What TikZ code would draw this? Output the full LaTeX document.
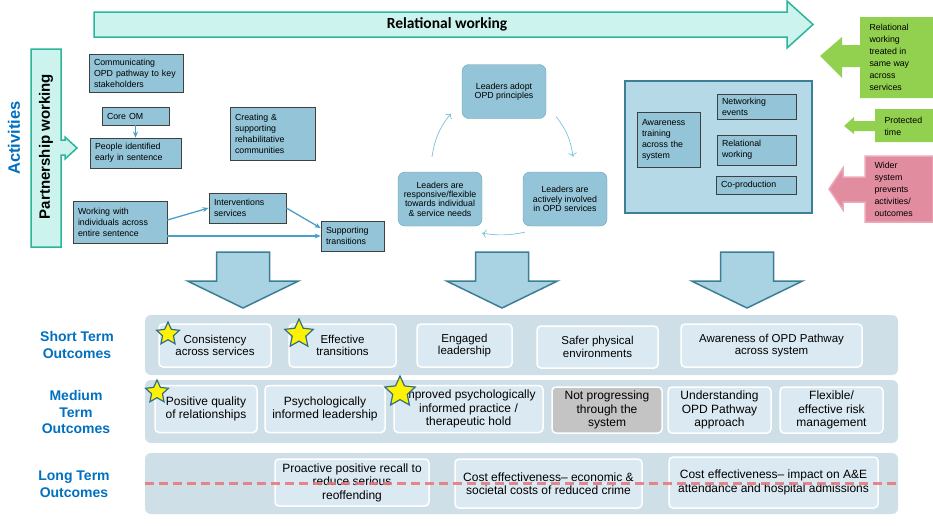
\documentclass[tikz,border=0pt]{standalone}
\usepackage{fontspec}
\setmainfont{Liberation Sans}
\newfontfamily\calibri{Carlito}
\usepackage{xcolor}
\usepackage{tikz}
\usetikzlibrary{arrows.meta, shapes.geometric}

\definecolor{actfill}{HTML}{93C4D7}
\definecolor{actline}{HTML}{404040}
\definecolor{leadline}{HTML}{6F9FB0}
\definecolor{sysfill}{HTML}{B5D9E7}
\definecolor{sysline}{HTML}{3D7F94}
\definecolor{linkblue}{HTML}{4A9FC8}
\definecolor{cycblue}{HTML}{7CC2DC}
\definecolor{mint}{HTML}{CDF3EE}
\definecolor{tealline}{HTML}{2BB59A}
\definecolor{bigarrow}{HTML}{A9D3E2}
\definecolor{bigline}{HTML}{3B7E96}
\definecolor{panelfill}{HTML}{CFDFE8}
\definecolor{outfill}{HTML}{DBEAF2}
\definecolor{greyout}{HTML}{C4C4C4}
\definecolor{labblue}{HTML}{0070C0}
\definecolor{grn}{HTML}{92D050}
\definecolor{pnk}{HTML}{E28CA0}
\definecolor{pnkline}{HTML}{EDA9B9}
\definecolor{starline}{HTML}{2F6F87}
\definecolor{dashred}{HTML}{E8737A}

\begin{document}
\begin{tikzpicture}[x=1pt, y=-1pt,
    act/.style 2 args={draw=actline, fill=actfill, line width=0.8pt, text width=#1, minimum height=#2, inner xsep=5pt, inner ysep=2pt, align=left, font=\fontsize{8.8}{11}\selectfont},
    lead/.style={draw=leadline, fill=actfill, rounded corners=7pt, minimum width=84pt, minimum height=54pt, align=center, inner sep=2pt, font=\fontsize{8.8}{9.3}\selectfont},
    link/.style={draw=linkblue, line width=1.3pt, -{Stealth[length=6pt, width=5pt]}},
    cyc/.style={draw=cycblue, line width=0.7pt, -{To[length=4pt]}},
    outc/.style 2 args={draw=white, line width=1.5pt, fill=outfill, rounded corners=4pt, minimum width=#1, minimum height=#2, align=center, inner sep=1pt},
    panel/.style 2 args={fill=panelfill, rounded corners=6pt, minimum width=#1, minimum height=#2},
    rowlab/.style={text=labblue, align=center, font=\bfseries\fontsize{14}{16.5}\selectfont},
    goldstar/.style={star, star points=5, star point ratio=2.1, fill=yellow, draw=starline, line width=1.2pt, minimum size=#1, inner sep=0pt},
    sidebox/.style={align=left, anchor=west, font=\fontsize{8.8}{12}\selectfont}
]
    \useasboundingbox (0,0) rectangle (933,525);

    % top arrows
    \draw[draw=tealline, fill=mint, line width=1.5pt] (94,12) -- (787,12) -- (787,1) -- (813,24.5) -- (787,48) -- (787,37) -- (94,37) -- cycle;
    \node[font=\calibri\bfseries\fontsize{15.5}{18}\selectfont] (reltxt) at (447,24) {Relational working};
    \draw[draw=tealline, fill=mint, line width=1.5pt] (31,49) -- (61,49) -- (61,140) -- (65,140) -- (65,137) -- (77,148) -- (65,159) -- (65,155) -- (61,155) -- (61,247) -- (31,247) -- cycle;
    \node[rotate=90, font=\bfseries\fontsize{15}{18}\selectfont] (partn) at (46,146.5) {Partnership working};
    \node[rotate=90, text=labblue, font=\bfseries\fontsize{16.5}{18}\selectfont] (actl) at (14,138) {Activities};

    % activities
    \node[act={84pt}{38pt}] (comm) at (136,73) {Communicating\\OPD pathway to key\\stakeholders};
    \node[act={57pt}{18pt}] (core) at (135.5,116) {Core OM};
    \node[act={81pt}{30pt}] (people) at (135.5,153) {People identified\\early in sentence};
    \node[act={75pt}{53pt}] (create) at (272.5,133.5) {Creating \&\\supporting\\rehabilitative\\communities};
    \node[act={84pt}{42pt}] (work) at (120,222) {Working with\\individuals across\\entire sentence};
    \node[act={67pt}{30pt}] (interv) at (247.5,208) {Interventions\\services};
    \node[act={53pt}{30pt}] (supp) at (352.5,236) {Supporting\\transitions};
    \draw[link] (core) -- (people);
    \draw[link] ([yshift=2pt]work.east) -- (interv.west);
    \draw[link] (interv.east) -- ([yshift=8pt]supp.west);
    \draw[link] ([yshift=-14pt]work.east) -- (supp.west);

    % leaders
    \node[lead] (adopt) at (504,91.5) {Leaders adopt\\OPD principles};
    \node[lead] (active) at (565,199) {Leaders are\\actively involved\\in OPD services};
    \node[lead] (resp) at (440,199) {Leaders are\\responsive/flexible\\towards individual\\\& service needs};
    \draw[cyc] ([xshift=10pt,yshift=2pt]adopt.south east) to[bend left=15] ([xshift=8pt,yshift=15pt]active.north);
    \draw[cyc] ([xshift=2pt,yshift=-6pt]active.south west) to[bend left=10] ([yshift=-7pt]resp.south east);
    \draw[cyc] ([xshift=-8pt,yshift=15pt]resp.north) to[bend left=15] ([xshift=-11pt,yshift=5pt]adopt.south west);

    % system box
    \node[draw=sysline, fill=sysfill, line width=1.5pt, minimum width=187pt, minimum height=132pt] (sys) at (718.5,147) {};
    \node[act={53pt}{55pt}] (aware) at (668.5,139.5) {Awareness\\training\\across the\\system};
    \node[act={69pt}{25pt}] (netw) at (756.5,106.5) {Networking\\events};
    \node[act={69pt}{30pt}] (relw) at (756.5,150) {Relational\\working};
    \node[act={70pt}{18pt}] (coprod) at (756,185) {Co-production};

    % side arrows
    \fill[grn] (933,17) -- (860,17) -- (860,45) -- (842,45) -- (842,37) -- (820,56) -- (842,78) -- (842,67) -- (860,67) -- (860,98) -- (933,98) -- cycle;
    \node[sidebox] (same) at (866,57) {Relational\\working\\treated in\\same way\\across\\services};
    \fill[grn] (933,109) -- (875,109) -- (875,121) -- (854,121) -- (854,117) -- (844,126) -- (854,134) -- (854,131) -- (875,131) -- (875,142) -- (933,142) -- cycle;
    \node[sidebox] (prot) at (881,126) {Protected\\time};
    \draw[fill=pnk, draw=pnkline, line width=1.5pt] (933,156) -- (865,156) -- (865,177) -- (843,177) -- (843,168) -- (829,189) -- (843,210) -- (843,202) -- (865,202) -- (865,222) -- (933,222) -- cycle;
    \node[sidebox] (wider) at (871,189) {Wider\\system\\prevents\\activities/\\outcomes};

    % down arrows
    \foreach \cx in {243,502,747}{
        \draw[fill=bigarrow, draw=bigline, line width=1.5pt] (\cx-26.5,252) -- (\cx+26.5,252) -- (\cx+26.5,281) -- (\cx+55.5,281) -- (\cx,308) -- (\cx-55.5,281) -- (\cx-26.5,281) -- cycle;
    }

    % outcomes
    \node[panel={753pt}{60pt}] (shortp) at (521.5,345) {};
    \node[panel={753pt}{63pt}] (medp) at (521.5,411.5) {};
    \node[panel={753pt}{61pt}] (longp) at (521.5,483.5) {};
    \node[rowlab] (shortl) at (77,345) {Short Term\\Outcomes};
    \node[rowlab] (medl) at (76,412) {Medium\\Term\\Outcomes};
    \node[rowlab] (longl) at (74,484) {Long Term\\Outcomes};

    \begin{scope}[every node/.append style={font=\fontsize{11.5}{12.5}\selectfont}]
        \node[outc={112pt}{43pt}] (cons) at (215,345.5) {Consistency\\across services};
        \node[outc={107pt}{43pt}] (efftr) at (342.5,345.5) {Effective\\transitions};
        \node[outc={95pt}{43pt}] (engl) at (464.5,345.5) {Engaged\\leadership};
        \node[outc={121pt}{42pt}] (safer) at (597.5,347) {Safer physical\\environments};
        \node[outc={181pt}{43pt}] (awopd) at (771.5,345.5) {Awareness of OPD Pathway\\across system};
    \end{scope}
    \begin{scope}[every node/.append style={font=\fontsize{12}{13.5}\selectfont}]
        \node[outc={102pt}{47pt}] (posq) at (206,409) {Positive quality\\of relationships};
        \node[outc={120pt}{47pt}] (psyl) at (325,409) {Psychologically\\informed leadership};
        \node[outc={149pt}{47pt}] (impr) at (468.5,409) {Improved psychologically\\informed practice /\\therapeutic hold};
        \node[outc={110pt}{46pt}, fill=greyout] (notp) at (607,410) {Not progressing\\through the\\system};
        \node[outc={103pt}{46pt}] (undr) at (719.5,410) {Understanding\\OPD Pathway\\approach};
        \node[outc={103pt}{46pt}] (flex) at (831.5,410) {Flexible/\\effective risk\\management};
        \node[outc={154pt}{47pt}] (proact) at (352,482.5) {Proactive positive recall to\\reduce serious\\reoffending};
        \node[outc={187pt}{49pt}] (costec) at (548.5,483.5) {Cost effectiveness– economic \&\\societal costs of reduced crime};
        \node[outc={209pt}{51pt}] (costae) at (773.5,482.5) {Cost effectiveness– impact on A\&E\\attendance and hospital admissions};
    \end{scope}
    \draw[draw=dashred, line width=2.5pt, opacity=0.85, dash pattern=on 9pt off 5pt] (longp.west) -- (longp.east);

    % stars
    \node[goldstar=24pt] (star1) at (168,334) {};
    \node[goldstar=30pt] (star2) at (299,334) {};
    \node[goldstar=24pt] (star3) at (157,392) {};
    \node[goldstar=32pt] (star4) at (400,392) {};
\end{tikzpicture}
\end{document}
